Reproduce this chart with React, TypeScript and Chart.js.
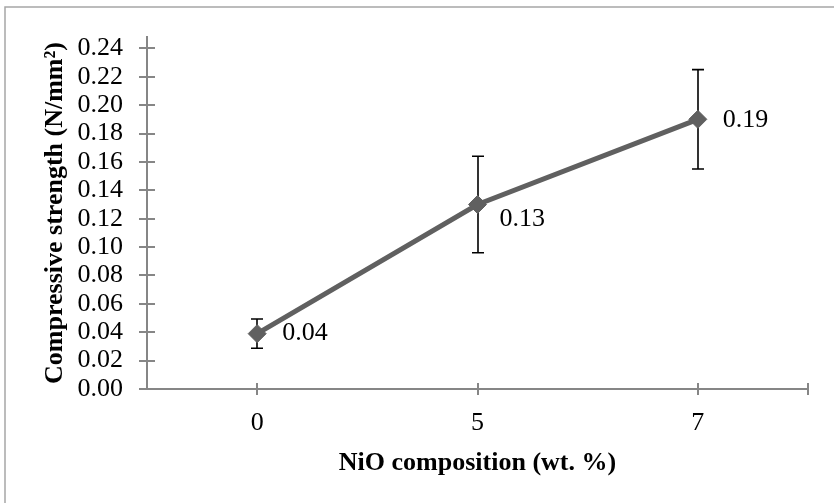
import React, { useEffect, useRef } from "react";
import { Chart, registerables } from "chart.js";

Chart.register(...registerables);

const categories = ["0", "5", "7"];
const strength = [0.039, 0.13, 0.19];
const errors = [0.0103, 0.034, 0.035];
const labelsText = ["0.04", "0.13", "0.19"];
const yTickMax = 0.24;

const AXIS = "#868686";
const SERIF = "'Liberation Serif', 'Times New Roman', serif";
const FS = 26;

const framePlugin = {
  id: "frame",
  beforeDraw(chart: any) {
    const { ctx } = chart;
    ctx.save();
    ctx.strokeStyle = "#a6a6a6";
    ctx.lineWidth = 1.5;
    ctx.beginPath();
    ctx.moveTo(5, 503);
    ctx.lineTo(5, 7);
    ctx.lineTo(834, 7);
    ctx.stroke();
    ctx.restore();
  },
};

const innerTicksPlugin = {
  id: "innerTicks",
  afterDraw(chart: any) {
    const { ctx, scales, chartArea } = chart;
    ctx.save();
    ctx.strokeStyle = AXIS;
    ctx.lineWidth = 2;
    const y = scales.y;
    y.ticks.forEach((t: any) => {
      const py = Math.round(y.getPixelForValue(t.value));
      ctx.beginPath();
      ctx.moveTo(chartArea.left, py);
      ctx.lineTo(chartArea.left + 8, py);
      ctx.stroke();
    });
    const x = scales.x;
    const pts: number[] = categories.map((_, i) => x.getPixelForValue(i));
    pts.push(chartArea.right);
    pts.forEach((px, i) => {
      const rx = Math.round(px);
      ctx.beginPath();
      ctx.moveTo(rx, chartArea.bottom - 6);
      ctx.lineTo(rx, chartArea.bottom + (i === pts.length - 1 ? 6 : 0));
      ctx.stroke();
    });
    ctx.restore();
  },
};

const errorBarPlugin = {
  id: "errorBars",
  beforeDatasetsDraw(chart: any) {
    const { ctx, scales } = chart;
    const meta = chart.getDatasetMeta(0);
    ctx.save();
    ctx.strokeStyle = "#000000";
    ctx.lineWidth = 1.6;
    meta.data.forEach((pt: any, i: number) => {
      const top = scales.y.getPixelForValue(strength[i] + errors[i]);
      const bot = scales.y.getPixelForValue(strength[i] - errors[i]);
      const x = Math.round(pt.x);
      ctx.beginPath();
      ctx.moveTo(x, top);
      ctx.lineTo(x, bot);
      ctx.moveTo(x - 6, top);
      ctx.lineTo(x + 6, top);
      ctx.moveTo(x - 6, bot);
      ctx.lineTo(x + 6, bot);
      ctx.stroke();
    });
    ctx.restore();
  },
};

const dataLabelPlugin = {
  id: "dataLabels",
  afterDatasetsDraw(chart: any) {
    const { ctx } = chart;
    const meta = chart.getDatasetMeta(0);
    const dy = [0, 15, 1];
    const dx = [25, 22, 25];
    ctx.save();
    ctx.fillStyle = "#000000";
    ctx.font = `${FS}px ${SERIF}`;
    ctx.textAlign = "left";
    ctx.textBaseline = "middle";
    meta.data.forEach((pt: any, i: number) => {
      ctx.fillText(labelsText[i], pt.x + dx[i], pt.y + dy[i]);
    });
    ctx.restore();
  },
};

export default function App() {
  const ref = useRef<HTMLCanvasElement>(null);
  useEffect(() => {
    document.body.style.margin = "0";
    const chart = new Chart(ref.current as HTMLCanvasElement, {
      type: "line",
      data: {
        labels: categories,
        datasets: [
          {
            data: strength,
            borderColor: "#606060",
            backgroundColor: "#606060",
            borderWidth: 5,
            pointStyle: "rectRot",
            pointRadius: 9,
            pointBorderWidth: 1,
            pointBackgroundColor: "#606060",
            pointBorderColor: "#606060",
            tension: 0,
          },
        ],
      },
      options: {
        responsive: false,
        animation: false,
        events: [],
        layout: { padding: { left: 0, right: 26, top: 37, bottom: 0 } },
        plugins: { legend: { display: false }, tooltip: { enabled: false } },
        scales: {
          x: {
            type: "category",
            offset: true,
            grid: {
              offset: false,
              drawOnChartArea: false,
              color: AXIS,
              lineWidth: 2,
              tickLength: 6,
            },
            border: { color: AXIS, width: 2 },
            ticks: {
              color: "#000000",
              font: { family: SERIF, size: FS },
              padding: 13,
              maxRotation: 0,
            },
            title: {
              display: true,
              text: "NiO composition (wt. %)",
              color: "#000000",
              font: { family: SERIF, size: FS, weight: "bold" },
              padding: { top: 0, bottom: 24 },
            },
            afterFit: (s: any) => {
              s.height = 114;
            },
          },
          y: {
            min: 0,
            max: 0.248,
            grid: {
              drawOnChartArea: false,
              color: AXIS,
              lineWidth: 2,
              tickLength: 8,
            },
            border: { color: AXIS, width: 2 },
            ticks: {
              stepSize: 0.02,
              includeBounds: false,
              autoSkip: false,
              color: "#000000",
              font: { family: SERIF, size: FS },
              padding: 16,
              callback: (v: any) => (Number(v) <= yTickMax + 1e-9 ? Number(v).toFixed(2) : ""),
            },
            title: {
              display: true,
              text: "Compressive strength (N/mm²)",
              color: "#000000",
              font: { family: SERIF, size: FS, weight: "bold" },
              padding: { top: 40, bottom: 0 },
            },
            afterFit: (s: any) => {
              s.width = 147;
            },
          },
        },
      },
      plugins: [framePlugin, errorBarPlugin, dataLabelPlugin, innerTicksPlugin],
    });
    return () => chart.destroy();
  }, []);
  return <canvas ref={ref} width={834} height={503} style={{ display: "block" }} />;
}
